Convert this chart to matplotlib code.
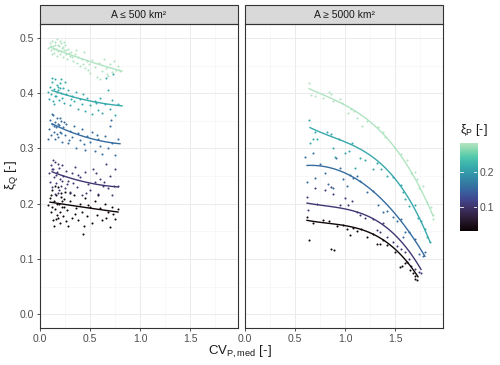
import matplotlib
matplotlib.use("Agg")
import matplotlib.pyplot as plt
import numpy as np
import seaborn as sns
from matplotlib.colors import ListedColormap, Normalize
from matplotlib.patches import Rectangle

plt.rcParams['font.family'] = ['Liberation Sans', 'DejaVu Sans']
plt.rcParams['mathtext.fontset'] = 'custom'
plt.rcParams['mathtext.rm'] = 'Liberation Sans'
plt.rcParams['mathtext.it'] = 'Liberation Sans:italic'

panels = ['A ≤ 500 km²', 'A ≥ 5000 km²']
xi_p = [0.035, 0.105, 0.155, 0.21, 0.28]

# ---- small catchments: points per xi_P group (low -> high) ----
small_x1 = [0.08, 0.10, 0.11, 0.12, 0.13, 0.14, 0.15, 0.16, 0.17, 0.18, 0.19, 0.20, 0.21, 0.22, 0.23, 0.24,
            0.25, 0.27, 0.28, 0.30, 0.32, 0.34, 0.36, 0.38, 0.40, 0.42, 0.43, 0.45, 0.47, 0.50, 0.52, 0.55,
            0.57, 0.60, 0.62, 0.65, 0.68, 0.70, 0.72, 0.75, 0.78, 0.12, 0.15, 0.18, 0.21, 0.14, 0.17, 0.20,
            0.24, 0.26, 0.30, 0.35, 0.44, 0.48, 0.58, 0.66, 0.73, 0.11, 0.16, 0.22]
small_y1 = [0.198, 0.210, 0.185, 0.225, 0.170, 0.205, 0.190, 0.215, 0.180, 0.230, 0.200, 0.165, 0.212, 0.195,
            0.178, 0.208, 0.222, 0.188, 0.160, 0.205, 0.175, 0.215, 0.192, 0.170, 0.200, 0.185, 0.145, 0.210,
            0.178, 0.195, 0.165, 0.205, 0.180, 0.192, 0.170, 0.200, 0.185, 0.158, 0.195, 0.172, 0.190, 0.195,
            0.232, 0.175, 0.220, 0.160, 0.200, 0.185, 0.195, 0.168, 0.220, 0.182, 0.160, 0.198, 0.215, 0.175,
            0.182, 0.215, 0.172, 0.205]

small_x2 = [0.09, 0.10, 0.11, 0.12, 0.13, 0.14, 0.15, 0.16, 0.17, 0.18, 0.19, 0.20, 0.21, 0.22, 0.23, 0.25,
            0.26, 0.28, 0.30, 0.32, 0.33, 0.35, 0.37, 0.40, 0.42, 0.45, 0.48, 0.50, 0.53, 0.55, 0.58, 0.60,
            0.63, 0.66, 0.68, 0.70, 0.72, 0.75, 0.78, 0.13, 0.16, 0.19, 0.12, 0.15, 0.18, 0.22, 0.27, 0.38,
            0.46, 0.56, 0.64, 0.74]
small_y2 = [0.255, 0.240, 0.270, 0.230, 0.262, 0.248, 0.275, 0.238, 0.258, 0.220, 0.265, 0.245, 0.232, 0.270,
            0.250, 0.228, 0.260, 0.242, 0.222, 0.255, 0.238, 0.266, 0.230, 0.248, 0.215, 0.258, 0.235, 0.225,
            0.262, 0.240, 0.218, 0.245, 0.232, 0.272, 0.228, 0.250, 0.215, 0.262, 0.232, 0.280, 0.252, 0.225,
            0.262, 0.218, 0.272, 0.242, 0.235, 0.252, 0.220, 0.255, 0.240, 0.232]

small_x3 = [0.08, 0.09, 0.10, 0.11, 0.12, 0.13, 0.14, 0.15, 0.16, 0.17, 0.18, 0.19, 0.20, 0.21, 0.22, 0.23,
            0.25, 0.26, 0.28, 0.30, 0.32, 0.34, 0.36, 0.38, 0.40, 0.42, 0.45, 0.47, 0.50, 0.52, 0.55, 0.58,
            0.60, 0.62, 0.65, 0.68, 0.70, 0.72, 0.75, 0.78, 0.12, 0.15, 0.18, 0.21, 0.24, 0.14, 0.17, 0.20,
            0.29, 0.44, 0.57, 0.71]
small_y3 = [0.318, 0.335, 0.352, 0.325, 0.345, 0.360, 0.330, 0.348, 0.338, 0.356, 0.320, 0.342, 0.330, 0.350,
            0.312, 0.338, 0.325, 0.345, 0.310, 0.332, 0.320, 0.340, 0.300, 0.328, 0.315, 0.335, 0.298, 0.322,
            0.312, 0.330, 0.295, 0.318, 0.305, 0.290, 0.322, 0.300, 0.340, 0.310, 0.288, 0.318, 0.362, 0.318,
            0.345, 0.328, 0.348, 0.340, 0.326, 0.355, 0.315, 0.308, 0.325, 0.352]

small_x4 = [0.08, 0.09, 0.10, 0.11, 0.12, 0.13, 0.14, 0.15, 0.16, 0.17, 0.18, 0.19, 0.20, 0.21, 0.22, 0.23,
            0.24, 0.26, 0.28, 0.30, 0.32, 0.34, 0.36, 0.38, 0.40, 0.42, 0.45, 0.47, 0.50, 0.52, 0.55, 0.58,
            0.60, 0.62, 0.65, 0.68, 0.70, 0.72, 0.75, 0.78, 0.12, 0.15, 0.18, 0.21, 0.14, 0.17, 0.20, 0.25,
            0.31, 0.43, 0.56, 0.66, 0.73]
small_y4 = [0.402, 0.390, 0.412, 0.398, 0.420, 0.385, 0.408, 0.425, 0.395, 0.415, 0.405, 0.388, 0.418, 0.400,
            0.392, 0.410, 0.382, 0.398, 0.405, 0.378, 0.395, 0.385, 0.402, 0.372, 0.390, 0.380, 0.368, 0.392,
            0.378, 0.362, 0.385, 0.370, 0.392, 0.365, 0.380, 0.405, 0.372, 0.388, 0.360, 0.380, 0.428, 0.395,
            0.412, 0.425, 0.380, 0.402, 0.410, 0.420, 0.390, 0.398, 0.382, 0.428, 0.435]

small_x5 = [0.08, 0.10, 0.11, 0.12, 0.13, 0.14, 0.15, 0.16, 0.17, 0.18, 0.19, 0.20, 0.21, 0.22, 0.23, 0.24,
            0.25, 0.26, 0.27, 0.28, 0.30, 0.31, 0.33, 0.35, 0.37, 0.38, 0.40, 0.42, 0.44, 0.45, 0.47, 0.49,
            0.50, 0.52, 0.55, 0.57, 0.59, 0.62, 0.64, 0.66, 0.68, 0.70, 0.72, 0.74, 0.76, 0.78, 0.80, 0.12,
            0.15, 0.18, 0.21, 0.14, 0.17, 0.20, 0.23, 0.26, 0.29, 0.11, 0.24, 0.32, 0.36, 0.43, 0.48, 0.60,
            0.67]
small_y5 = [0.482, 0.490, 0.478, 0.495, 0.485, 0.472, 0.488, 0.480, 0.498, 0.476, 0.485, 0.470, 0.490, 0.481,
            0.466, 0.478, 0.487, 0.471, 0.462, 0.480, 0.468, 0.474, 0.459, 0.470, 0.455, 0.466, 0.450, 0.462,
            0.475, 0.445, 0.458, 0.452, 0.437, 0.460, 0.448, 0.430, 0.455, 0.440, 0.462, 0.445, 0.432, 0.452,
            0.438, 0.458, 0.442, 0.449, 0.440, 0.470, 0.493, 0.487, 0.476, 0.480, 0.468, 0.495, 0.484, 0.478,
            0.473, 0.486, 0.492, 0.466, 0.478, 0.452, 0.442, 0.425, 0.435]

# smooth lines, small catchments
small_lx = [[0.10, 0.20, 0.25, 0.40, 0.60, 0.78],
            [0.12, 0.27, 0.43, 0.60, 0.78],
            [0.12, 0.27, 0.43, 0.60, 0.80],
            [0.12, 0.33, 0.50, 0.63, 0.82],
            [0.10, 0.27, 0.40, 0.47, 0.60, 0.82]]
small_ly = [[0.200, 0.204, 0.200, 0.193, 0.188, 0.186],
            [0.257, 0.250, 0.240, 0.233, 0.231],
            [0.344, 0.334, 0.322, 0.313, 0.309],
            [0.404, 0.396, 0.385, 0.380, 0.378],
            [0.482, 0.474, 0.465, 0.458, 0.449, 0.441]]

# ---- large catchments: points per xi_P group ----
large_x1 = [0.62, 0.64, 0.68, 0.78, 0.84, 0.86, 0.89, 0.92, 0.98, 1.02, 1.05, 1.08, 1.12, 1.16, 1.22, 1.28,
            1.32, 1.35, 1.38, 1.42, 1.50, 1.55, 1.57, 1.60, 1.65, 1.68, 1.70, 1.72, 1.70, 1.62]
large_y1 = [0.176, 0.135, 0.165, 0.170, 0.168, 0.118, 0.117, 0.160, 0.162, 0.155, 0.143, 0.157, 0.150, 0.155,
            0.140, 0.145, 0.128, 0.128, 0.134, 0.125, 0.112, 0.085, 0.088, 0.092, 0.080, 0.075, 0.070, 0.062,
            0.064, 0.095]
large_x2 = [0.62, 0.63, 0.70, 0.72, 0.80, 0.86, 0.88, 0.95, 1.00, 1.03, 1.07, 1.12, 1.15, 1.20, 1.28, 1.32,
            1.35, 1.38, 1.42, 1.52, 1.56, 1.60, 1.64, 1.66, 1.70, 1.74, 1.76, 1.48]
large_y2 = [0.212, 0.188, 0.228, 0.200, 0.225, 0.230, 0.218, 0.198, 0.210, 0.197, 0.205, 0.185, 0.180, 0.175,
            0.172, 0.152, 0.148, 0.165, 0.140, 0.124, 0.118, 0.112, 0.100, 0.088, 0.082, 0.077, 0.075, 0.130]
large_x3 = [0.60, 0.62, 0.70, 0.68, 0.80, 0.83, 0.88, 0.91, 0.95, 0.98, 1.02, 1.05, 1.08, 1.12, 1.15, 1.22,
            1.28, 1.33, 1.38, 1.42, 1.48, 1.52, 1.56, 1.60, 1.64, 1.70, 1.74, 1.78, 1.80, 1.58, 0.75]
large_y3 = [0.285, 0.240, 0.246, 0.292, 0.255, 0.236, 0.228, 0.282, 0.265, 0.245, 0.232, 0.252, 0.246, 0.250,
            0.241, 0.222, 0.223, 0.197, 0.185, 0.186, 0.176, 0.168, 0.172, 0.148, 0.148, 0.136, 0.110, 0.105,
            0.112, 0.140, 0.272]
large_x4 = [0.64, 0.65, 0.68, 0.72, 0.70, 0.82, 0.86, 0.88, 0.90, 0.94, 1.00, 1.04, 1.07, 1.10, 1.15, 1.20,
            1.28, 1.32, 1.36, 1.42, 1.48, 1.56, 1.58, 1.60, 1.64, 1.70, 1.73, 1.76, 1.82, 1.85, 1.80]
large_y4 = [0.352, 0.310, 0.318, 0.318, 0.330, 0.330, 0.326, 0.300, 0.285, 0.318, 0.292, 0.295, 0.310, 0.265,
            0.283, 0.279, 0.262, 0.274, 0.262, 0.250, 0.248, 0.234, 0.222, 0.209, 0.196, 0.198, 0.175, 0.168,
            0.140, 0.130, 0.155]
large_x5 = [0.64, 0.66, 0.70, 0.78, 0.84, 0.86, 0.88, 0.95, 0.97, 1.03, 1.06, 1.09, 1.12, 1.17, 1.22, 1.33,
            1.38, 1.40, 1.50, 1.56, 1.62, 1.66, 1.70, 1.72, 1.78, 1.82, 1.86, 1.88, 1.88, 1.74]
large_y5 = [0.418, 0.397, 0.395, 0.392, 0.402, 0.398, 0.386, 0.390, 0.382, 0.364, 0.372, 0.368, 0.356, 0.340,
            0.350, 0.338, 0.330, 0.320, 0.300, 0.290, 0.280, 0.255, 0.258, 0.245, 0.232, 0.203, 0.195, 0.180,
            0.172, 0.228]

large_lx = [[0.62, 1.05, 1.32, 1.52, 1.65, 1.73],
            [0.62, 1.05, 1.32, 1.55, 1.68, 1.76],
            [0.62, 1.05, 1.32, 1.55, 1.70, 1.80],
            [0.65, 1.05, 1.35, 1.55, 1.68, 1.85],
            [0.64, 1.05, 1.35, 1.55, 1.68, 1.88]]
large_ly = [[0.170, 0.159, 0.141, 0.114, 0.090, 0.067],
            [0.201, 0.190, 0.166, 0.136, 0.105, 0.080],
            [0.269, 0.253, 0.213, 0.172, 0.136, 0.103],
            [0.338, 0.307, 0.275, 0.235, 0.193, 0.132],
            [0.408, 0.374, 0.331, 0.289, 0.253, 0.178]]

small_pts = [(small_x1, small_y1), (small_x2, small_y2), (small_x3, small_y3), (small_x4, small_y4), (small_x5, small_y5)]
large_pts = [(large_x1, large_y1), (large_x2, large_y2), (large_x3, large_y3), (large_x4, large_y4), (large_x5, large_y5)]

mako = sns.color_palette("mako", as_cmap=True)
cmap = ListedColormap(mako(np.linspace(0.0, 0.93, 256)))
norm = Normalize(0.032, 0.285)


def smooth(xs, ys, deg):
    xs = np.asarray(xs)
    ys = np.asarray(ys)
    coef = np.polyfit(xs, ys, deg)
    xx = np.linspace(xs[0], xs[-1], 100)
    return xx, np.polyval(coef, xx)


fig = plt.figure(figsize=(5.0, 3.65), dpi=100)
axes = [fig.add_axes([0.08, 0.101, 0.396, 0.833]),
        fig.add_axes([0.49, 0.101, 0.396, 0.833])]

for ax, title, pts, lx, ly, deg in zip(axes, panels, [small_pts, large_pts], [small_lx, large_lx],
                                       [small_ly, large_ly], [2, 3]):
    ax.set_xlim(0, 1.98)
    ax.set_ylim(-0.025, 0.525)
    ax.set_xticks([0, 0.5, 1.0, 1.5])
    ax.set_xticks([0.25, 0.75, 1.25, 1.75], minor=True)
    ax.set_yticks([0, 0.1, 0.2, 0.3, 0.4, 0.5])
    ax.set_yticks([0.05, 0.15, 0.25, 0.35, 0.45], minor=True)
    ax.grid(which='major', color='#EBEBEB', lw=0.7)
    ax.grid(which='minor', color='#F3F3F3', lw=0.4)
    ax.set_axisbelow(True)
    for s in ax.spines.values():
        s.set_color('#333333')
        s.set_linewidth(0.8)
    ax.tick_params(which='major', length=2.5, width=0.6, color='#333333', labelsize=7.5,
                   labelcolor='#4D4D4D', pad=1.5)
    ax.tick_params(which='minor', length=0)

    for (xs, ys), xs_l, ys_l, v in zip(pts, lx, ly, xi_p):
        c = cmap(norm(v))
        ax.scatter(xs, ys, s=2.2, color=c, linewidths=0)
        xx, yy = smooth(xs_l, ys_l, deg)
        ax.plot(xx, yy, color=c, lw=1.0)

    # facet strip
    ax.add_patch(Rectangle((0, 1.0), 1, 19 / 304, transform=ax.transAxes, clip_on=False,
                           facecolor='#D9D9D9', edgecolor='#333333', lw=0.8))
    ax.text(0.5, 1.0 + 9.5 / 304, title, transform=ax.transAxes, ha='center', va='center',
            fontsize=7.5, color='#1A1A1A')

axes[1].set_yticklabels([])
axes[1].tick_params(axis='y', length=0)
axes[0].set_xticklabels(['0.0', '0.5', '1.0', '1.5'])
axes[1].set_xticklabels(['0.0', '0.5', '1.0', '1.5'])
axes[0].set_yticklabels(['0.0', '0.1', '0.2', '0.3', '0.4', '0.5'])

fig.text(0.48, 0.035, 'CV$_\\mathrm{P,med}$ [-]', ha='center', va='center', fontsize=9.5, color='#1A1A1A')
fig.text(0.022, 0.52, 'ξ$_\\mathrm{Q}$ [-]', ha='center', va='center', rotation=90, fontsize=9.5, color='#1A1A1A')

# colour bar legend
cax = fig.add_axes([0.92, 0.367, 0.034, 0.242])
grad = np.linspace(0.032, 0.285, 256).reshape(-1, 1)
cax.imshow(grad, aspect='auto', cmap=cmap, norm=norm, origin='lower', extent=[0, 1, 0.032, 0.285])
cax.set_xlim(0, 1)
cax.set_ylim(0.032, 0.285)
cax.set_xticks([])
cax.yaxis.tick_right()
cax.set_yticks([0.1, 0.2])
cax.set_yticklabels(['0.1', '0.2'])
cax.tick_params(axis='y', length=0, labelsize=7.5, labelcolor='#4D4D4D', pad=2)
for t in [0.1, 0.2]:
    cax.plot([0, 0.2], [t, t], color='white', lw=0.6)
    cax.plot([0.8, 1], [t, t], color='white', lw=0.6)
for s in cax.spines.values():
    s.set_visible(False)
fig.text(0.92, 0.645, 'ξ$_\\mathrm{P}$ [-]', ha='left', va='center', fontsize=9, color='#1A1A1A')

fig.savefig('out.png', dpi=100)
